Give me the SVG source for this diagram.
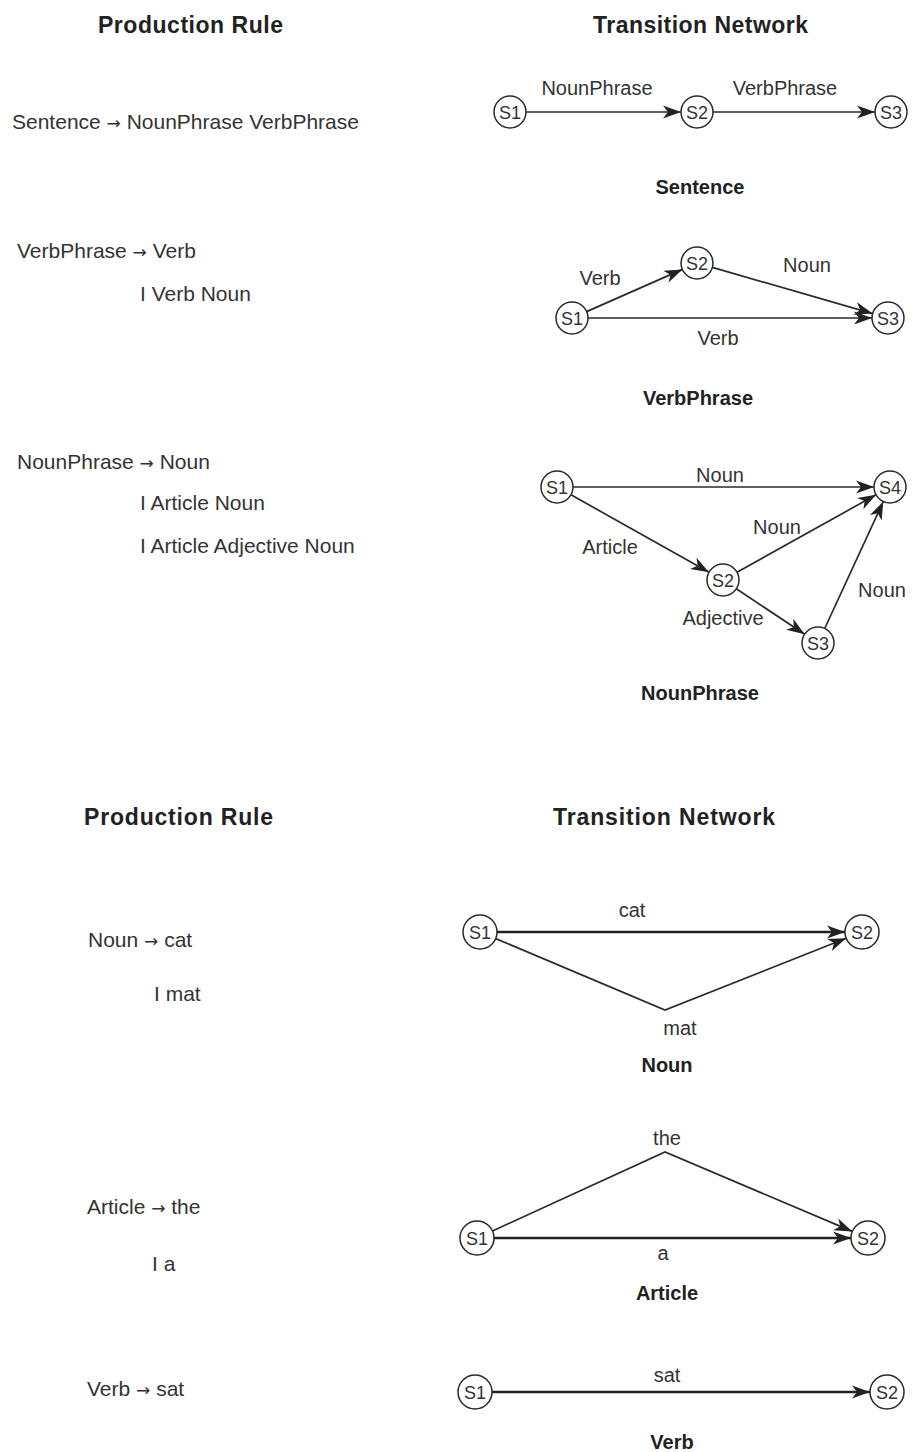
<svg xmlns="http://www.w3.org/2000/svg" width="915" height="1452" viewBox="0 0 915 1452">
<style>
text{font-family:"Liberation Sans",Arial,sans-serif;fill:#333}
.t{font-size:20px}
.r{font-size:21px}
.ar{font-family:"DejaVu Sans",sans-serif;font-size:17px}
.b{font-size:20px;font-weight:bold;fill:#222}
.h{font-size:23px;font-weight:bold;fill:#222}
.s{font-size:18px;text-anchor:middle}
.m{text-anchor:middle}
circle{fill:#fff;stroke:#2a2a2a;stroke-width:1.5}
.e{fill:none;stroke:#2a2a2a;stroke-width:1.7}
.k{fill:none;stroke:#222;stroke-width:2.6}
</style>
<defs>
<marker id="ar" markerUnits="userSpaceOnUse" markerWidth="19" markerHeight="14" refX="18" refY="7" orient="auto" viewBox="0 0 19 14">
<path d="M0,0.5 L18,7 L0,13.5 L5,7 z" fill="#222"/>
</marker>
</defs>
<rect width="915" height="1452" fill="#fff"/>

<g id="headers">
<text class="h" x="98" y="33" textLength="185">Production Rule</text>
<text class="h" x="593" y="33" textLength="215">Transition Network</text>
<text class="h" x="84" y="825" textLength="189">Production Rule</text>
<text class="h" x="553" y="825" textLength="222">Transition Network</text>
</g>

<g id="rules">
<text class="r" x="12" y="129">Sentence <tspan class="ar">→</tspan> NounPhrase VerbPhrase</text>
<text class="r" x="17" y="258">VerbPhrase <tspan class="ar">→</tspan> Verb</text>
<text class="r" x="140" y="301">I Verb Noun</text>
<text class="r" x="17" y="469">NounPhrase <tspan class="ar">→</tspan> Noun</text>
<text class="r" x="140" y="510">I Article Noun</text>
<text class="r" x="140" y="553">I Article Adjective Noun</text>
<text class="r" x="88" y="947">Noun <tspan class="ar">→</tspan> cat</text>
<text class="r" x="154" y="1001">I mat</text>
<text class="r" x="87" y="1214">Article <tspan class="ar">→</tspan> the</text>
<text class="r" x="152" y="1271">I a</text>
<text class="r" x="87" y="1396">Verb <tspan class="ar">→</tspan> sat</text>
</g>

<g id="connectors">
<line class="e" x1="526" y1="112" x2="681" y2="112" marker-end="url(#ar)"/>
<line class="e" x1="713" y1="112" x2="875" y2="112" marker-end="url(#ar)"/>
<line class="e" x1="586.6" y1="311.6" x2="682.4" y2="269.4" marker-end="url(#ar)"/>
<line class="e" x1="712.4" y1="267.4" x2="872.6" y2="313.6" marker-end="url(#ar)"/>
<line class="e" x1="588" y1="318" x2="872" y2="318" marker-end="url(#ar)"/>
<line class="e" x1="573" y1="487" x2="874" y2="487" marker-end="url(#ar)"/>
<line class="e" x1="571" y1="494.8" x2="709" y2="572.2" marker-end="url(#ar)"/>
<line class="e" x1="737" y1="572.2" x2="876" y2="494.8" marker-end="url(#ar)"/>
<line class="e" x1="736.3" y1="588.8" x2="804.7" y2="634.2" marker-end="url(#ar)"/>
<line class="e" x1="824.7" y1="628.5" x2="883.3" y2="501.5" marker-end="url(#ar)"/>
<line class="k" x1="497" y1="932" x2="845" y2="932" marker-end="url(#ar)"/>
<polyline class="e" points="495.7,938.6 665,1010 846.2,938.3" marker-end="url(#ar)"/>
<polyline class="e" points="492.5,1230.9 665,1152 852.3,1231.4" marker-end="url(#ar)"/>
<line class="k" x1="494" y1="1238" x2="851" y2="1238" marker-end="url(#ar)"/>
<line class="k" x1="492" y1="1392" x2="870" y2="1392" marker-end="url(#ar)"/>
</g>

<g id="sentence-net">
<g id="sn-s1"><circle cx="510" cy="112" r="16"/><text class="s" x="510" y="118.5">S1</text></g>
<g id="sn-s2"><circle cx="697" cy="112" r="16"/><text class="s" x="697" y="118.5">S2</text></g>
<g id="sn-s3"><circle cx="891" cy="112" r="16"/><text class="s" x="891" y="118.5">S3</text></g>
<text class="t m" x="597" y="95">NounPhrase</text>
<text class="t m" x="785" y="95">VerbPhrase</text>
<text class="b m" x="700" y="194">Sentence</text>
</g>

<g id="verbphrase-net">
<g id="vp-s1"><circle cx="572" cy="318" r="16"/><text class="s" x="572" y="324.5">S1</text></g>
<g id="vp-s2"><circle cx="697" cy="263" r="16"/><text class="s" x="697" y="269.5">S2</text></g>
<g id="vp-s3"><circle cx="888" cy="318" r="16"/><text class="s" x="888" y="324.5">S3</text></g>
<text class="t m" x="600" y="285">Verb</text>
<text class="t m" x="807" y="272">Noun</text>
<text class="t m" x="718" y="345">Verb</text>
<text class="b m" x="698" y="405">VerbPhrase</text>
</g>

<g id="nounphrase-net">
<g id="np-s1"><circle cx="557" cy="487" r="16"/><text class="s" x="557" y="493.5">S1</text></g>
<g id="np-s2"><circle cx="723" cy="580" r="16"/><text class="s" x="723" y="586.5">S2</text></g>
<g id="np-s3"><circle cx="818" cy="643" r="16"/><text class="s" x="818" y="649.5">S3</text></g>
<g id="np-s4"><circle cx="890" cy="487" r="16"/><text class="s" x="890" y="493.5">S4</text></g>
<text class="t m" x="720" y="482">Noun</text>
<text class="t m" x="777" y="534">Noun</text>
<text class="t m" x="610" y="554">Article</text>
<text class="t m" x="882" y="597">Noun</text>
<text class="t m" x="723" y="625">Adjective</text>
<text class="b m" x="700" y="700">NounPhrase</text>
</g>

<g id="noun-net">
<g id="n-s1"><circle cx="480" cy="932" r="17"/><text class="s" x="480" y="938.5">S1</text></g>
<g id="n-s2"><circle cx="862" cy="932" r="17"/><text class="s" x="862" y="938.5">S2</text></g>
<text class="t m" x="632" y="917">cat</text>
<text class="t m" x="680" y="1035">mat</text>
<text class="b m" x="667" y="1072">Noun</text>
</g>

<g id="article-net">
<g id="a-s1"><circle cx="477" cy="1238" r="17"/><text class="s" x="477" y="1244.5">S1</text></g>
<g id="a-s2"><circle cx="868" cy="1238" r="17"/><text class="s" x="868" y="1244.5">S2</text></g>
<text class="t m" x="667" y="1145">the</text>
<text class="t m" x="663" y="1260">a</text>
<text class="b m" x="667" y="1300">Article</text>
</g>

<g id="verb-net">
<g id="v-s1"><circle cx="475" cy="1392" r="17"/><text class="s" x="475" y="1398.5">S1</text></g>
<g id="v-s2"><circle cx="887" cy="1392" r="17"/><text class="s" x="887" y="1398.5">S2</text></g>
<text class="t m" x="667" y="1382">sat</text>
<text class="b m" x="672" y="1449">Verb</text>
</g>
</svg>
